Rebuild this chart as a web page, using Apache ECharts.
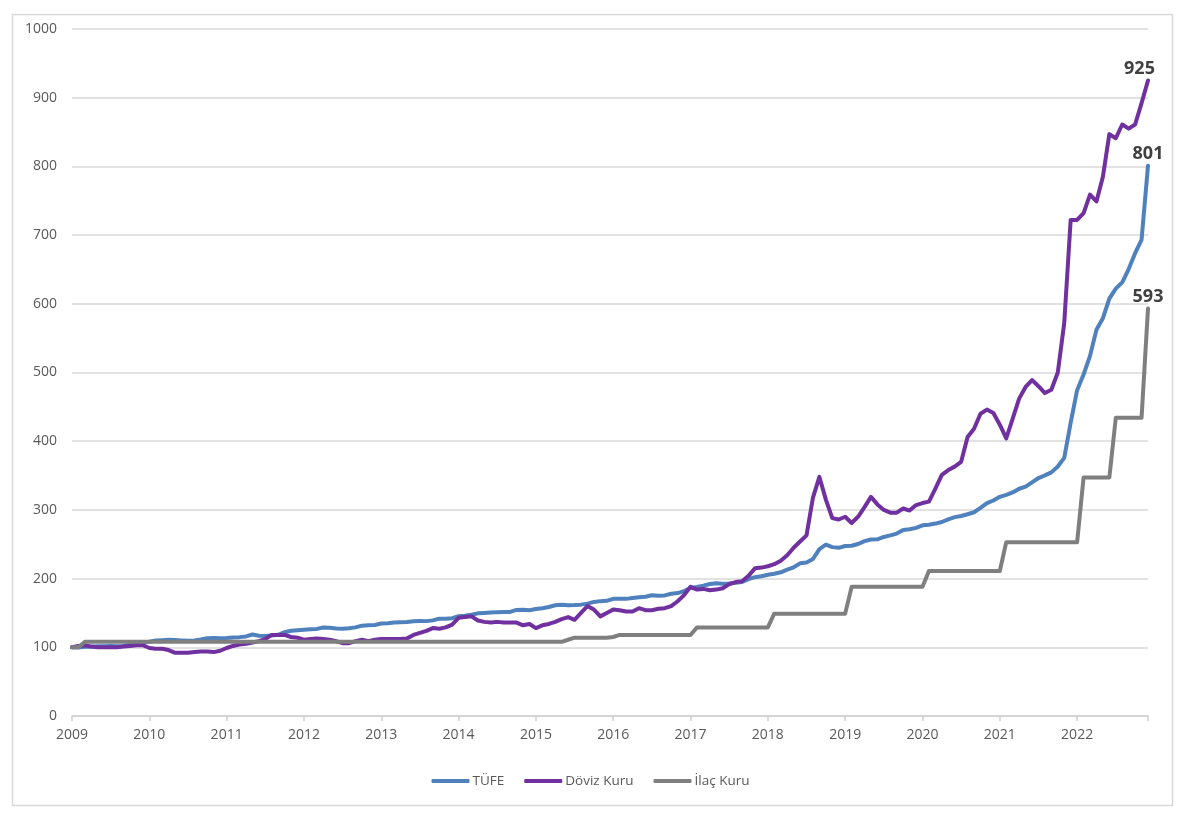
<!DOCTYPE html>
<html>
<head>
<meta charset="utf-8">
<script src="https://cdn.jsdelivr.net/npm/echarts@6/dist/echarts.min.js"></script>
<style>
html,body{margin:0;padding:0;background:#fff;}
#chart{width:1181px;height:815px;}
</style>
</head>
<body>
<div id="chart"></div>
<script>
const startYear = 2009;
const endYear = 2022;
const yTicks = { min: 0, max: 1000, interval: 100 };
const seriesNames = ['TÜFE', 'Döviz Kuru', 'İlaç Kuru'];

const tufe = [
  100.0, 99.7, 100.8, 100.8, 101.4, 101.5, 101.8, 101.5, 101.9, 104.3, 105.7, 106.2,
  108.2, 109.8, 110.4, 111.1, 110.7, 110.0, 109.5, 110.0, 111.3, 113.3, 113.4, 113.0,
  113.5, 114.3, 114.8, 115.8, 118.6, 116.9, 116.4, 117.3, 118.2, 122.0, 124.1, 124.8,
  125.5, 126.2, 126.8, 128.7, 128.4, 127.3, 127.0, 127.7, 129.0, 131.5, 132.0, 132.5,
  134.7, 135.1, 136.0, 136.6, 136.8, 137.8, 138.3, 138.1, 139.2, 141.7, 141.7, 142.4,
  145.2, 145.8, 147.4, 149.4, 150.0, 150.5, 151.2, 151.3, 151.5, 154.4, 154.7, 154.0,
  155.7, 156.8, 158.7, 161.2, 162.1, 161.3, 161.5, 162.1, 163.6, 166.1, 167.2, 167.6,
  170.6, 170.6, 170.5, 171.8, 172.8, 173.6, 175.7, 175.1, 175.5, 178.0, 178.9, 181.8,
  186.3, 187.8, 189.7, 192.2, 193.1, 192.6, 192.9, 193.9, 195.1, 199.2, 202.1, 203.5,
  205.6, 207.1, 209.2, 213.1, 216.5, 222.2, 223.4, 228.5, 242.9, 249.4, 245.8, 244.8,
  247.4, 247.8, 250.4, 254.6, 257.0, 257.1, 260.6, 262.9, 265.5, 270.8, 271.8, 273.8,
  277.5, 278.5, 280.1, 282.4, 286.3, 289.5, 291.2, 293.7, 296.6, 302.9, 309.8, 313.7,
  319.0, 321.9, 325.4, 330.8, 333.8, 340.2, 346.4, 350.2, 354.6, 363.1, 375.8, 426.9,
  474.3, 497.1, 524.2, 562.2, 579.0, 607.6, 622.0, 631.1, 650.6, 673.6, 693.0, 801.0
];

const doviz = [
  100, 102, 103, 101, 100, 100, 100, 100, 101, 102, 103, 103,
  99, 98, 98, 96, 92, 92, 92, 93, 94, 94, 93, 95,
  99, 102, 104, 105, 107, 109, 112, 118, 118, 118, 115, 114,
  111, 112, 113, 112, 111, 109, 106, 106, 109, 111, 109, 111,
  112, 112, 112, 112, 113, 118, 121, 124, 128, 127, 129, 133,
  143, 144, 145, 139, 137, 136, 137, 136, 136, 136, 132, 134,
  128, 132, 134, 137, 141, 144, 140, 150, 160, 155, 145, 150,
  155, 154, 152, 152, 157, 154, 154, 156, 157, 160, 167, 176,
  188, 184, 185, 183, 184, 186, 192, 195, 196, 204, 215, 216,
  218, 221, 226, 234, 245, 254, 263, 318, 348, 315, 288, 286,
  290, 281, 290, 304, 319, 308, 300, 296, 296, 302, 299, 307,
  310, 312, 331, 351, 358, 363, 370, 406, 418, 440, 446, 441,
  424, 404, 433, 462, 479, 489, 480, 470, 475, 500, 572, 722,
  722, 732, 759, 749, 785, 847, 841, 861, 855, 861, 892, 925
];

const ilac = [
  100, 100, 108, 108, 108, 108, 108, 108, 108, 108, 108, 108,
  108, 108, 108, 108, 108, 108, 108, 108, 108, 108, 108, 108,
  108, 108, 108, 108, 108, 108, 108, 108, 108, 108, 108, 108,
  108, 108, 108, 108, 108, 108, 108, 108, 108, 108, 108, 108,
  108, 108, 108, 108, 108, 108, 108, 108, 108, 108, 108, 108,
  108, 108, 108, 108, 108, 108, 108, 108, 108, 108, 108, 108,
  108, 108, 108, 108, 108, 111, 114, 114, 114, 114, 114, 114,
  115, 118, 118, 118, 118, 118, 118, 118, 118, 118, 118, 118,
  118, 129, 129, 129, 129, 129, 129, 129, 129, 129, 129, 129,
  129, 149, 149, 149, 149, 149, 149, 149, 149, 149, 149, 149,
  149, 188, 188, 188, 188, 188, 188, 188, 188, 188, 188, 188,
  188, 211, 211, 211, 211, 211, 211, 211, 211, 211, 211, 211,
  211, 253, 253, 253, 253, 253, 253, 253, 253, 253, 253, 253,
  253, 347, 347, 347, 347, 347, 434, 434, 434, 434, 434, 593
];

const categories = [];
for (let y = startYear; y <= endYear; y++) {
  for (let m = 1; m <= 12; m++) categories.push(y + '-' + (m < 10 ? '0' + m : m));
}
const lastIdx = categories.length - 1;

function withEndLabel(arr, padRight) {
  return arr.map((v, i) => i === lastIdx ? {
    value: v,
    symbol: 'circle',
    symbolSize: 1,
    label: {
      show: true, position: 'top', distance: 2, align: 'center',
      padding: [0, padRight, 0, 0],
      formatter: String(Math.round(v)),
      fontFamily: 'Open Sans', fontSize: 18, fontWeight: 'bold', color: '#404040'
    }
  } : v);
}

const chart = echarts.init(document.getElementById('chart'), null, { renderer: 'canvas' });
const lineCommon = (color) => ({
  type: 'line', symbol: 'none', showSymbol: true, showAllSymbol: true, smooth: false,
  lineStyle: { color: color, width: 4, cap: 'round', join: 'round' },
  itemStyle: { color: color },
  emphasis: { disabled: true },
  labelLayout: { hideOverlap: false },
  animation: false
});

chart.setOption({
  backgroundColor: '#ffffff',
  animation: false,
  graphic: [{
    type: 'rect', left: 10, top: 12, silent: true,
    shape: { width: 1160, height: 791 },
    style: { fill: 'none', stroke: '#d9d9d9', lineWidth: 1.5 }
  }],
  grid: { left: 72, right: 33, top: 29, bottom: 99, containLabel: false, outerBoundsMode: 'none' },
  legend: {
    left: 'center', top: 769, itemWidth: 38, itemHeight: 4, itemGap: 20,
    icon: 'roundRect',
    textStyle: { fontFamily: 'Open Sans', fontSize: 13.5, color: '#595959', padding: [0, 0, 0, -2] },
    data: seriesNames
  },
  xAxis: {
    type: 'category', boundaryGap: false, data: categories,
    axisLine: { show: true, lineStyle: { color: '#d0d0d0', width: 1.5 } },
    axisTick: { show: true, length: 5, interval: (i) => i % 12 === 0 || i === lastIdx, lineStyle: { color: '#d0d0d0', width: 1.5 } },
    axisLabel: {
      interval: (i) => i % 12 === 0, margin: 12,
      formatter: (v) => v.slice(0, 4),
      fontFamily: 'Open Sans', fontSize: 14, color: '#595959'
    },
    splitLine: { show: false }
  },
  yAxis: {
    type: 'value', min: yTicks.min, max: yTicks.max, interval: yTicks.interval,
    axisLine: { show: false }, axisTick: { show: false },
    axisLabel: { margin: 15, formatter: (v) => String(v), fontFamily: 'Open Sans', fontSize: 14, color: '#595959' },
    splitLine: { show: true, lineStyle: { color: '#d9d9d9', width: 1.5 } }
  },
  series: [
    Object.assign(lineCommon('#4f81bd'), { name: seriesNames[0], data: withEndLabel(tufe, 0) }),
    Object.assign(lineCommon('#7030a0'), { name: seriesNames[1], data: withEndLabel(doviz, 17) }),
    Object.assign(lineCommon('#7f7f7f'), { name: seriesNames[2], data: withEndLabel(ilac, 0) })
  ]
});
</script>
</body>
</html>
